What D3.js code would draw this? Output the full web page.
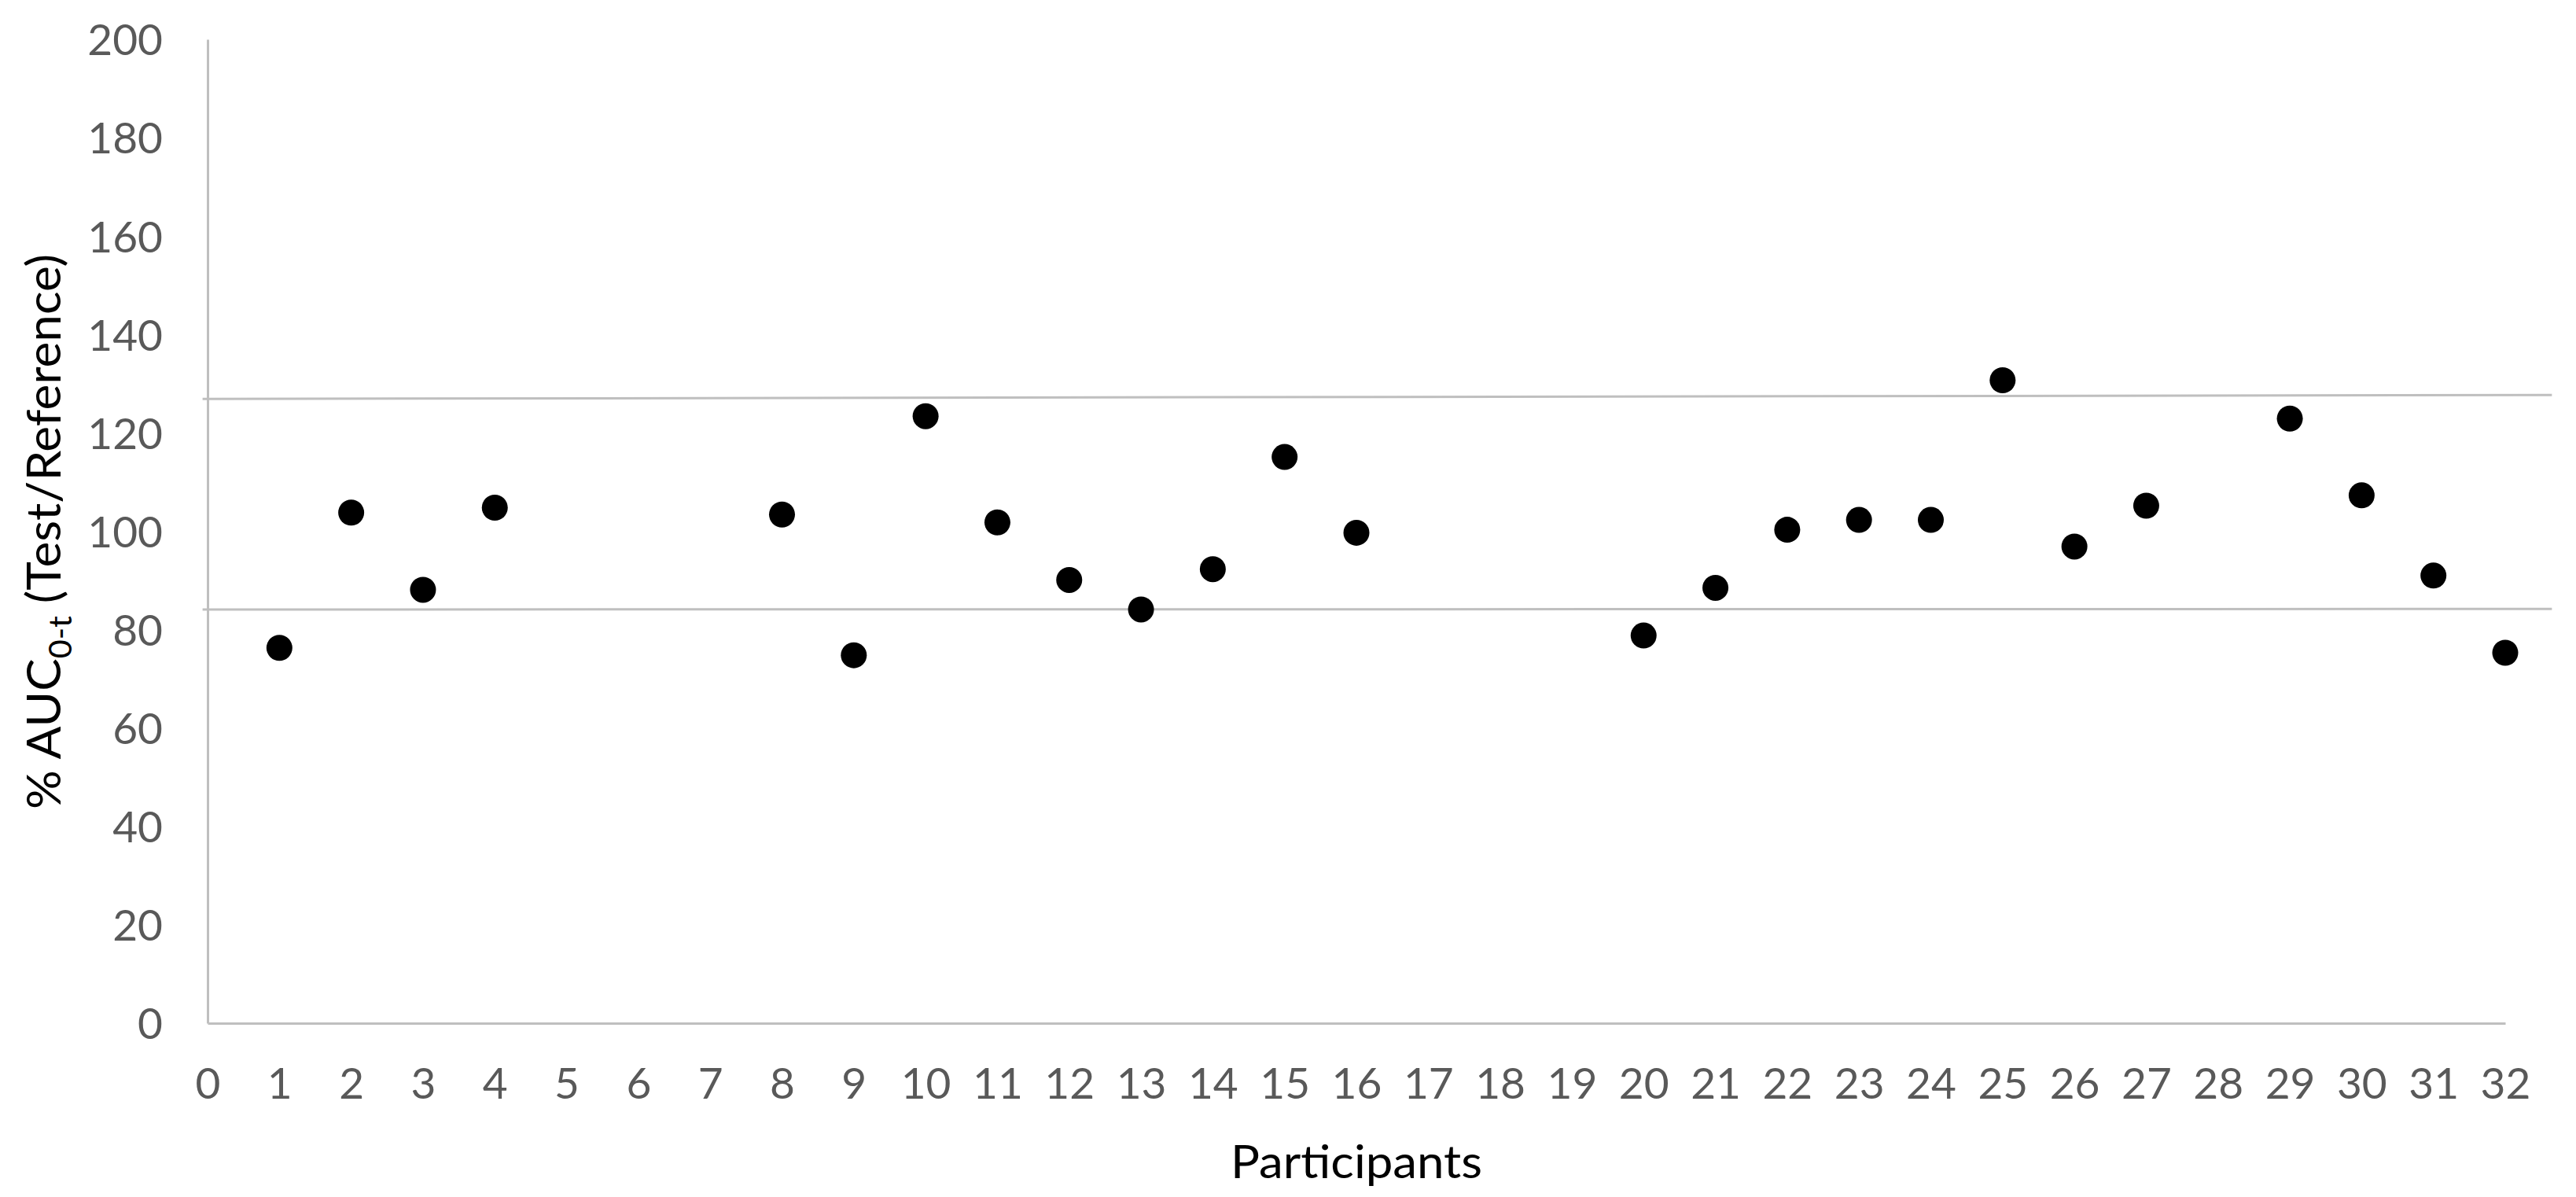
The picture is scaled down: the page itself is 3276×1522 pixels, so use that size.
<!DOCTYPE html>
<html>
<head>
<meta charset="utf-8">
<script src="https://cdn.jsdelivr.net/npm/d3@7"></script>
<style>
  html, body { margin: 0; padding: 0; background: #ffffff; }
  svg { display: block; }
</style>
</head>
<body>
<svg id="chart" width="3276" height="1522"></svg>
<script>
// ---- data ----
const participants = [1, 2, 3, 4, 8, 9, 10, 11, 12, 13, 14, 15, 16, 20, 21, 22, 23, 24, 25, 26, 27, 29, 30, 31, 32];
const aucRatio = [76.3, 103.8, 88.1, 104.8, 103.4, 74.8, 123.4, 101.8, 90.1, 84.1, 92.3, 115.1, 99.7, 78.8, 88.5, 100.3, 102.3, 102.3, 130.7, 96.9, 105.2, 122.9, 107.3, 91.0, 75.3];
const xTicks = d3.range(0, 33, 1);
const yTicks = [0, 20, 40, 60, 80, 100, 120, 140, 160, 180, 200];
// acceptance limit lines (start / end x, start / end value)
const limitX = [-0.07, 32.65];
const upperLimit = [126.9, 127.7];
const lowerLimit = [84.1, 84.2];
const xTitle = "Participants";

// ---- layout ----
const svg = d3.select("#chart");
const x = d3.scaleLinear().domain([0, 32]).range([264, 3186]);
const y = d3.scaleLinear().domain([0, 200]).range([1301, 50]);
const axisColor = "#bfbfbf";
const tickColor = "#595959";
const font = "Lato, 'Open Sans', sans-serif";

// y axis
const yAxis = svg.append("g").attr("transform", `translate(${x(0)},0)`)
  .call(d3.axisLeft(y).tickValues(yTicks).tickSize(0).tickPadding(57));
yAxis.select(".domain").attr("stroke", axisColor).attr("stroke-width", 3);
yAxis.selectAll("text").attr("fill", tickColor).attr("font-family", font)
  .attr("font-size", 55).attr("dy", "0.36em");

// x axis
const xAxis = svg.append("g").attr("transform", `translate(0,${y(0)})`)
  .call(d3.axisBottom(x).tickValues(xTicks).tickSize(0).tickPadding(0));
xAxis.select(".domain").attr("stroke", axisColor).attr("stroke-width", 3);
xAxis.selectAll("text").attr("fill", tickColor).attr("font-family", font)
  .attr("font-size", 55).attr("y", 76).attr("dy", "0.36em");

// limit lines
const lineGen = d3.line().x(d => x(d[0])).y(d => y(d[1]));
[upperLimit, lowerLimit].forEach(vals => {
  svg.append("path")
    .attr("d", lineGen(limitX.map((lx, i) => [lx, vals[i]])))
    .attr("fill", "none").attr("stroke", axisColor).attr("stroke-width", 3);
});

// points
svg.append("g").selectAll("circle")
  .data(participants.map((p, i) => ({ p, v: aucRatio[i] })))
  .join("circle")
  .attr("cx", d => x(d.p))
  .attr("cy", d => y(d.v))
  .attr("r", 16.5)
  .attr("fill", "#000000");

// x title
svg.append("text")
  .attr("x", (x(0) + x(32)) / 2).attr("y", 1498)
  .attr("text-anchor", "middle")
  .attr("font-family", font).attr("font-size", 58).attr("fill", "#000000")
  .attr("textLength", 320).attr("lengthAdjust", "spacingAndGlyphs")
  .text(xTitle);

// y title with subscript
const yt = svg.append("text")
  .attr("transform", "translate(77,676) rotate(-90)")
  .attr("text-anchor", "middle")
  .attr("font-family", font).attr("font-size", 60).attr("fill", "#000000")
  .attr("textLength", 706).attr("lengthAdjust", "spacingAndGlyphs");
yt.append("tspan").text("% AUC");
yt.append("tspan").attr("font-size", 40).attr("dy", 14).text("0-t");
yt.append("tspan").attr("dy", -14).text("  (Test/Reference)");
</script>
</body>
</html>
